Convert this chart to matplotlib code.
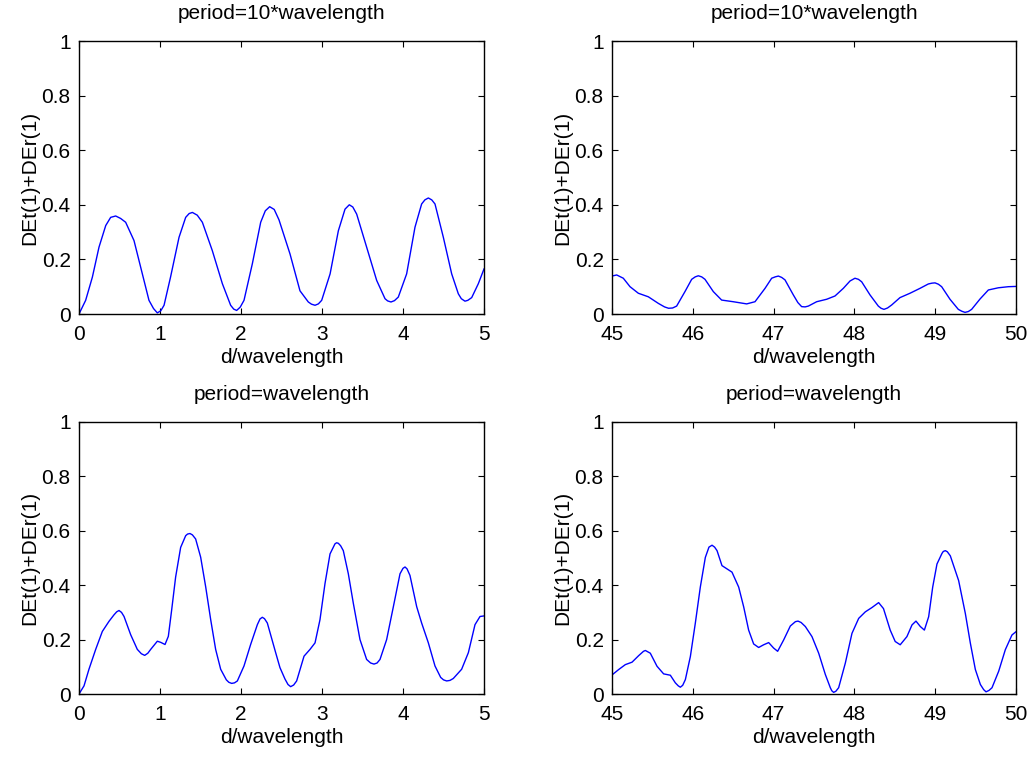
import numpy as np
import matplotlib
matplotlib.use("Agg")
import matplotlib.pyplot as plt

# ==========================================
# data
# ==========================================

# period = 10*wavelength, d/wavelength 0..5
x_tl = [0.0, 0.082, 0.165, 0.247, 0.33, 0.391, 0.453, 0.514, 0.576, 0.679,
        0.782, 0.864, 0.92, 0.967, 1.01, 1.05, 1.13, 1.235, 1.317, 1.36,
        1.40, 1.46, 1.523, 1.646, 1.77, 1.872, 1.91, 1.946, 1.99, 2.037,
        2.14, 2.243, 2.30, 2.354, 2.41, 2.469, 2.605, 2.728, 2.831, 2.87,
        2.914, 2.955, 2.996, 3.10, 3.202, 3.284, 3.337, 3.38, 3.428, 3.551,
        3.675, 3.778, 3.81, 3.852, 3.895, 3.942, 4.045, 4.148, 4.23, 4.27,
        4.313, 4.355, 4.395, 4.498, 4.601, 4.683, 4.72, 4.765, 4.80, 4.848,
        4.93, 5.0]
y_tl = [0.0, 0.05, 0.135, 0.245, 0.324, 0.354, 0.359, 0.35, 0.336, 0.269,
        0.147, 0.05, 0.02, 0.004, 0.012, 0.032, 0.135, 0.281, 0.354, 0.368,
        0.372, 0.362, 0.336, 0.232, 0.111, 0.032, 0.018, 0.013, 0.025, 0.05,
        0.184, 0.336, 0.378, 0.393, 0.383, 0.345, 0.22, 0.085, 0.044, 0.036,
        0.032, 0.037, 0.05, 0.147, 0.305, 0.384, 0.40, 0.392, 0.366, 0.245,
        0.123, 0.056, 0.048, 0.044, 0.049, 0.062, 0.147, 0.318, 0.403, 0.418,
        0.425, 0.418, 0.403, 0.281, 0.147, 0.074, 0.056, 0.047, 0.05, 0.06,
        0.111, 0.165]

# period = 10*wavelength, d/wavelength 45..50
x_tr = [45.0, 45.058, 45.14, 45.223, 45.326, 45.45, 45.573, 45.65, 45.70, 45.75,
        45.80, 45.903, 45.986, 46.03, 46.068, 46.11, 46.151, 46.254, 46.357, 46.50,
        46.667, 46.77, 46.894, 46.976, 47.02, 47.059, 47.10, 47.141, 47.244, 47.30,
        47.347, 47.39, 47.43, 47.533, 47.657, 47.76, 47.863, 47.946, 48.007, 48.05,
        48.09, 48.193, 48.296, 48.33, 48.366, 48.41, 48.461, 48.564, 48.688, 48.812,
        48.915, 48.96, 48.998, 49.04, 49.08, 49.183, 49.286, 49.33, 49.369, 49.41,
        49.451, 49.555, 49.658, 49.781, 49.905, 50.0]
y_tr = [0.139, 0.143, 0.131, 0.10, 0.076, 0.063, 0.039, 0.026, 0.021, 0.022,
        0.029, 0.082, 0.127, 0.136, 0.14, 0.136, 0.127, 0.082, 0.051, 0.045,
        0.037, 0.045, 0.094, 0.131, 0.136, 0.139, 0.134, 0.125, 0.07, 0.042,
        0.027, 0.026, 0.029, 0.045, 0.054, 0.066, 0.094, 0.121, 0.131, 0.127,
        0.118, 0.07, 0.029, 0.021, 0.017, 0.022, 0.033, 0.06, 0.076, 0.094,
        0.11, 0.113, 0.114, 0.109, 0.10, 0.054, 0.017, 0.01, 0.006, 0.009,
        0.017, 0.055, 0.088, 0.096, 0.10, 0.101]

# period = wavelength, d/wavelength 0..5
x_bl = [0.0, 0.062, 0.123, 0.206, 0.288, 0.37, 0.432, 0.465, 0.494, 0.525,
        0.556, 0.638, 0.72, 0.77, 0.811, 0.85, 0.885, 0.967, 1.008, 1.062,
        1.103, 1.144, 1.193, 1.255, 1.317, 1.34, 1.37, 1.40, 1.44, 1.502,
        1.564, 1.626, 1.687, 1.749, 1.819, 1.85, 1.885, 1.92, 1.955, 2.037,
        2.119, 2.202, 2.235, 2.263, 2.29, 2.325, 2.428, 2.481, 2.543, 2.58,
        2.613, 2.65, 2.687, 2.778, 2.852, 2.914, 2.975, 3.037, 3.099, 3.16,
        3.18, 3.202, 3.23, 3.263, 3.325, 3.387, 3.469, 3.551, 3.60, 3.642,
        3.68, 3.716, 3.798, 3.881, 3.963, 4.0, 4.025, 4.05, 4.086, 4.169,
        4.23, 4.313, 4.395, 4.465, 4.50, 4.539, 4.58, 4.621, 4.724, 4.807,
        4.889, 4.951, 5.0]
y_bl = [0.0, 0.03, 0.091, 0.164, 0.23, 0.267, 0.291, 0.302, 0.307, 0.30,
        0.285, 0.218, 0.164, 0.148, 0.142, 0.15, 0.164, 0.194, 0.19, 0.182,
        0.212, 0.309, 0.43, 0.539, 0.582, 0.588, 0.59, 0.585, 0.57, 0.503,
        0.394, 0.273, 0.164, 0.091, 0.052, 0.043, 0.039, 0.041, 0.048, 0.103,
        0.182, 0.255, 0.276, 0.282, 0.277, 0.261, 0.152, 0.097, 0.055, 0.035,
        0.027, 0.033, 0.048, 0.139, 0.164, 0.188, 0.273, 0.406, 0.515, 0.552,
        0.556, 0.554, 0.545, 0.527, 0.442, 0.333, 0.20, 0.127, 0.114, 0.11,
        0.114, 0.127, 0.20, 0.321, 0.442, 0.462, 0.467, 0.46, 0.436, 0.321,
        0.261, 0.188, 0.103, 0.061, 0.052, 0.048, 0.05, 0.057, 0.091, 0.152,
        0.255, 0.285, 0.287]

# period = wavelength, d/wavelength 45..50
x_br = [45.0, 45.083, 45.165, 45.248, 45.33, 45.39, 45.413, 45.474, 45.557, 45.639,
        45.722, 45.784, 45.82, 45.846, 45.875, 45.908, 45.97, 46.031, 46.093, 46.155,
        46.20, 46.238, 46.27, 46.30, 46.361, 46.423, 46.485, 46.568, 46.63, 46.691,
        46.753, 46.815, 46.877, 46.939, 47.0, 47.05, 47.125, 47.207, 47.27, 47.302,
        47.34, 47.393, 47.475, 47.558, 47.64, 47.702, 47.72, 47.743, 47.77, 47.805,
        47.888, 47.97, 48.053, 48.135, 48.218, 48.30, 48.36, 48.443, 48.505, 48.567,
        48.65, 48.713, 48.762, 48.816, 48.866, 48.919, 48.969, 49.022, 49.084, 49.10,
        49.125, 49.15, 49.187, 49.29, 49.373, 49.435, 49.497, 49.559, 49.60, 49.629,
        49.665, 49.703, 49.786, 49.868, 49.95, 50.0]
y_br = [0.07, 0.09, 0.108, 0.117, 0.141, 0.157, 0.16, 0.15, 0.102, 0.074,
        0.069, 0.041, 0.03, 0.025, 0.032, 0.053, 0.138, 0.26, 0.393, 0.502,
        0.54, 0.547, 0.54, 0.527, 0.472, 0.46, 0.448, 0.393, 0.32, 0.235,
        0.184, 0.171, 0.181, 0.189, 0.169, 0.157, 0.199, 0.25, 0.266, 0.268,
        0.263, 0.248, 0.211, 0.15, 0.072, 0.023, 0.012, 0.006, 0.01, 0.023,
        0.114, 0.223, 0.278, 0.302, 0.318, 0.336, 0.314, 0.235, 0.193, 0.181,
        0.211, 0.254, 0.268, 0.248, 0.235, 0.284, 0.393, 0.478, 0.517, 0.524,
        0.527, 0.523, 0.508, 0.417, 0.296, 0.187, 0.09, 0.035, 0.016, 0.008,
        0.013, 0.023, 0.084, 0.163, 0.217, 0.229]

titles = ["period=10*wavelength", "period=10*wavelength",
          "period=wavelength", "period=wavelength"]
y_ticks = [0, 0.2, 0.4, 0.6, 0.8, 1]
y_tick_labels = ["0", "0.2", "0.4", "0.6", "0.8", "1"]
x_ticks_left = [0, 1, 2, 3, 4, 5]
x_ticks_right = [45, 46, 47, 48, 49, 50]

# ==========================================
# style
# ==========================================

plt.rcParams["font.family"] = ["Liberation Sans", "DejaVu Sans"]
plt.rcParams["font.size"] = 15

W, H = 1034, 760
fig = plt.figure(figsize=(W / 100, H / 100), dpi=100)

# axes boxes in pixels: left, top, right, bottom
boxes = [
    (79, 41, 484, 314),
    (612, 41, 1016, 314),
    (79, 422, 484, 694),
    (612, 422, 1016, 694),
]

series = [(x_tl, y_tl), (x_tr, y_tr), (x_bl, y_bl), (x_br, y_br)]
xticks_all = [x_ticks_left, x_ticks_right, x_ticks_left, x_ticks_right]

for i in range(4):
    l, t, r, b = boxes[i]
    ax = fig.add_axes([l / W, 1 - b / H, (r - l) / W, (b - t) / H])
    xs, ys = series[i]
    ax.plot(xs, ys, color="#0000ff", lw=1.0)

    xt = xticks_all[i]
    ax.set_xlim(xt[0], xt[-1])
    ax.set_ylim(0, 1)
    ax.set_xticks(xt)
    ax.set_xticklabels([str(v) for v in xt])
    ax.set_yticks(y_ticks)
    ax.set_yticklabels(y_tick_labels)

    ax.tick_params(direction="in", length=4, width=0.8,
                   top=True, right=True, pad=6, colors="black")
    ax.tick_params(axis="x", pad=8)
    for s in ax.spines.values():
        s.set_linewidth(1.0)

    ax.set_title(titles[i], fontsize=15, pad=16)
    ax.set_xlabel("d/wavelength", labelpad=3)
    ax.set_ylabel("DEt(1)+DEr(1)", labelpad=2)

fig.savefig("out.png", dpi=100)
